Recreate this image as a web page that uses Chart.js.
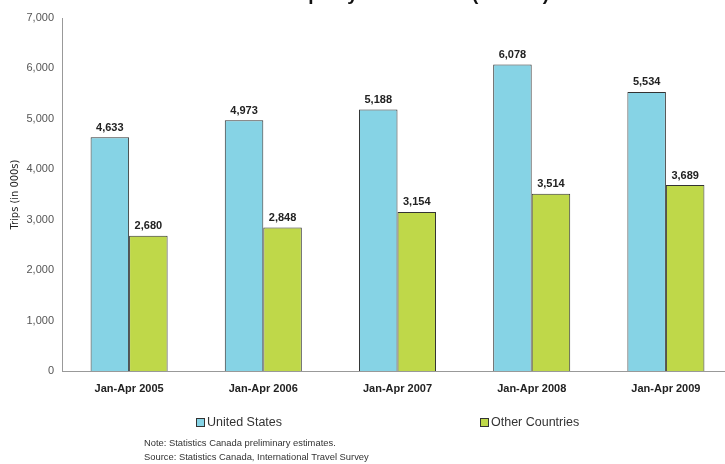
<!DOCTYPE html>
<html>
<head>
<meta charset="utf-8">
<script src="https://cdn.jsdelivr.net/npm/chart.js@4"></script>
<style>
  html, body { margin: 0; padding: 0; background: #fff; overflow: hidden; }
  #wrap { width: 725px; height: 464px; overflow: hidden; }
  canvas { display: block; }
</style>
</head>
<body>
<div id="wrap"><canvas id="chart-trips" width="733" height="464"></canvas></div>
<script>
// ----- DATA ----- //
// ---------------- //

const periods = ['Jan-Apr 2005', 'Jan-Apr 2006', 'Jan-Apr 2007', 'Jan-Apr 2008', 'Jan-Apr 2009'];
const us_trips = [4633, 4973, 5188, 6078, 5534];
const other_trips = [2680, 2848, 3154, 3514, 3689];
const series_names = ['United States', 'Other Countries'];
const y_ticks = [0, 1000, 2000, 3000, 4000, 5000, 6000, 7000];
const title_text = 'Total Trips by Destination (in 000s)';
const y_title = 'Trips (in 000s)';
const notes = ['Note: Statistics Canada preliminary estimates.', 'Source: Statistics Canada, International Travel Survey'];

const US_COLOR = '#86D3E5';
const OTHER_COLOR = '#BFD849';
const EDGE = '#333333';


// ----- HELPERS ----- //
// ------------------- //

function fmt(v) {
  return Number(v).toLocaleString('en-US');
}


// ----- PLUGINS ----- //
// ------------------- //

// Values above the bars
const barValues = {
  id: 'barValues',
  afterDatasetsDraw(chart) {
    const ctx = chart.ctx;
    ctx.save();
    ctx.font = 'bold 11px "Liberation Sans", Arial, sans-serif';
    ctx.fillStyle = '#222';
    ctx.textAlign = 'center';
    ctx.textBaseline = 'bottom';
    chart.data.datasets.forEach((ds, i) => {
      chart.getDatasetMeta(i).data.forEach((bar, j) => {
        ctx.fillText(fmt(ds.data[j]), bar.x, bar.y - 4);
      });
    });
    ctx.restore();
  }
};

// Title (cut by top edge), legend and notes
const extras = {
  id: 'extras',
  afterDraw(chart) {
    const ctx = chart.ctx;
    ctx.save();
    // title: only its descenders show below the top edge
    ctx.font = 'bold 19px "Liberation Sans", Arial, sans-serif';
    ctx.fillStyle = '#111';
    ctx.textAlign = 'right';
    ctx.textBaseline = 'alphabetic';
    ctx.fillText(title_text, 549, -0.5);

    // legend
    const legend_x = [196, 480];
    ctx.font = '12.5px "Liberation Sans", Arial, sans-serif';
    ctx.textAlign = 'left';
    ctx.textBaseline = 'middle';
    chart.data.datasets.forEach((ds, i) => {
      ctx.fillStyle = ds.backgroundColor;
      ctx.fillRect(legend_x[i] + 0.5, 418.5, 8, 8);
      ctx.strokeStyle = EDGE;
      ctx.lineWidth = 1;
      ctx.strokeRect(legend_x[i] + 0.5, 418.5, 8, 8);
      ctx.fillStyle = '#333';
      ctx.fillText(ds.label, legend_x[i] + 11, 423);
    });

    // notes
    ctx.font = '9.4px "Liberation Sans", Arial, sans-serif';
    ctx.fillStyle = '#333';
    ctx.fillText(notes[0], 144, 443);
    ctx.fillText(notes[1], 144, 457);
    ctx.restore();
  }
};


// ----- CREATE CHART ----- //
// ------------------------ //

new Chart(document.getElementById('chart-trips').getContext('2d'), {
  type: 'bar',
  data: {
    labels: periods,
    datasets: [
      {
        label: series_names[0],
        data: us_trips,
        backgroundColor: US_COLOR,
        borderColor: EDGE,
        borderWidth: 1,
      },
      {
        label: series_names[1],
        data: other_trips,
        backgroundColor: OTHER_COLOR,
        borderColor: EDGE,
        borderWidth: 1,
      }
    ]
  },
  options: {
    responsive: false,
    animation: false,
    layout: { padding: { top: 18, right: 0, bottom: 0, left: 0 } },
    plugins: {
      legend: { display: false },
      tooltip: { enabled: false },
    },
    datasets: {
      bar: { categoryPercentage: 0.574, barPercentage: 1.0 }
    },
    scales: {
      x: {
        grid: { display: false },
        border: { color: '#999' },
        ticks: {
          color: '#222',
          padding: 3,
          maxRotation: 0,
          font: { family: '"Liberation Sans", Arial, sans-serif', size: 11, weight: 'bold' }
        },
        afterFit(scale) { scale.height = 93; }
      },
      y: {
        min: 0,
        max: 7000,
        grid: { display: false, drawTicks: false },
        border: { color: '#999' },
        afterBuildTicks(scale) { scale.ticks = y_ticks.map(v => ({ value: v })); },
        ticks: {
          color: '#555',
          padding: 8,
          callback: v => fmt(v),
          font: { family: '"Liberation Sans", Arial, sans-serif', size: 11 }
        },
        title: {
          display: true,
          text: y_title,
          color: '#222',
          padding: { top: 9, bottom: 4 },
          font: { family: '"Liberation Sans Narrow", "DejaVu Sans Condensed", sans-serif', size: 11 }
        },
        afterFit(scale) { scale.width = 62; }
      }
    }
  },
  plugins: [barValues, extras]
});
</script>
</body>
</html>
